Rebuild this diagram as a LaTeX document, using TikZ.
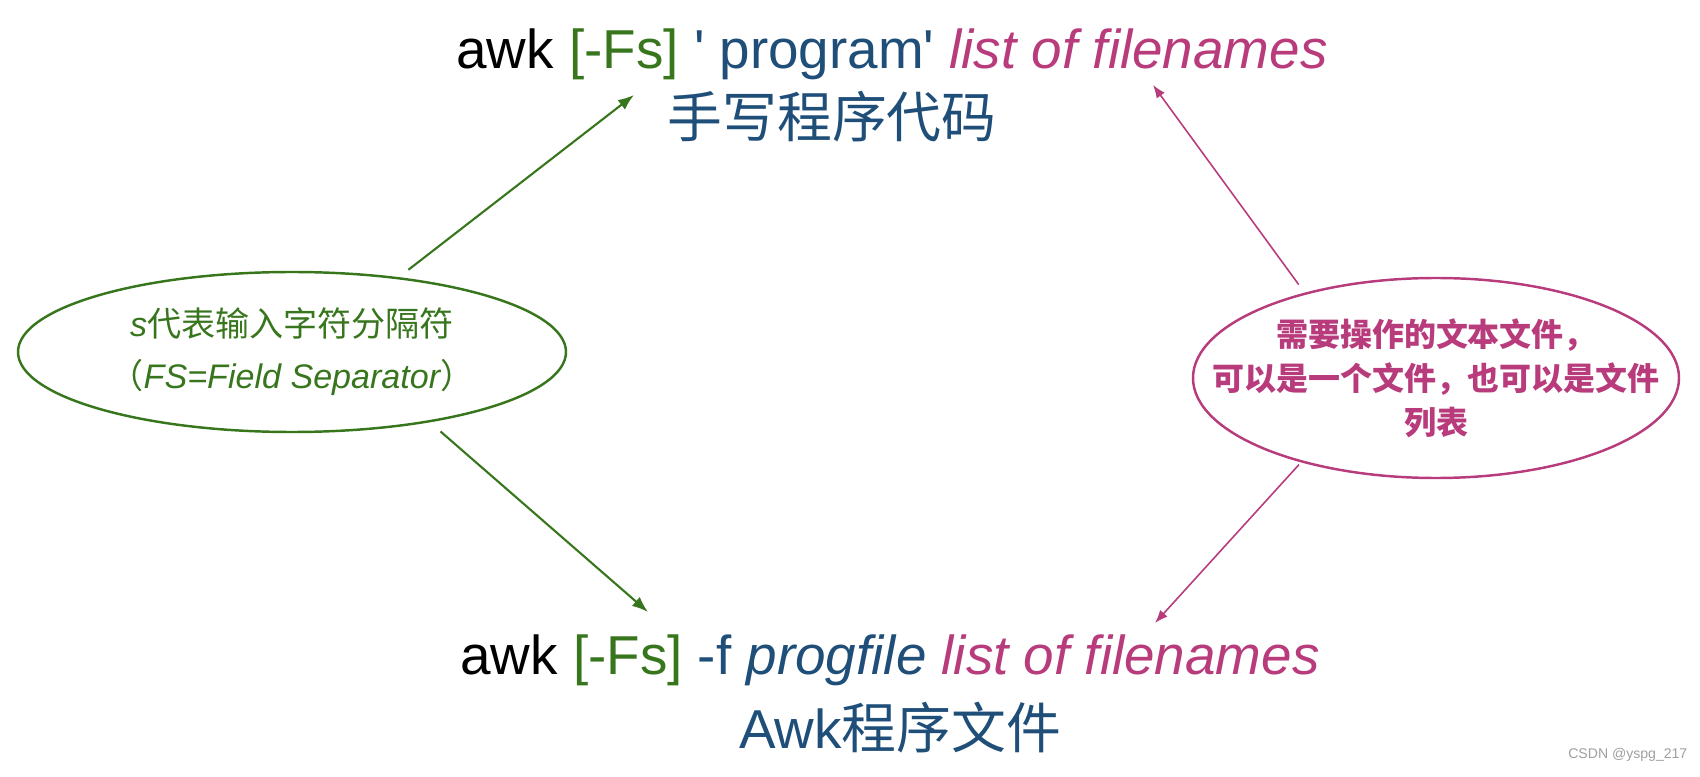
\documentclass[tikz,border=0pt]{standalone}
\usepackage{fontspec}
\setmainfont{Liberation Sans}
\newfontfamily\cjk{Noto Sans CJK SC}
\usepackage{tikz}
\usetikzlibrary{arrows.meta,shapes.geometric}

\definecolor{awkgreen}{HTML}{38761D}
\definecolor{awkblue}{HTML}{1F4E79}
\definecolor{awkpink}{HTML}{B83B7C}

\begin{document}
\begin{tikzpicture}[
  cmd/.style={anchor=base,inner sep=0pt,font=\fontsize{15.6}{18}\selectfont},
  note/.style={ellipse,draw,line width=0.7pt,inner ysep=0pt,inner xsep=-0.9cm,align=center},
  greenarrow/.style={awkgreen,line width=0.6pt,-{Latex[length=1.6mm,width=1.2mm]}},
  pinkarrow/.style={awkpink,line width=0.45pt,-{Latex[length=1.3mm,width=1mm]}}
]
\useasboundingbox (0,0) rectangle (17,7.76);

% Command lines
\node[cmd] (progline) at (8.92,7.07)
  {awk \textcolor{awkgreen}{[-Fs]} \textcolor{awkblue}{\textquotesingle{} program\textquotesingle} \textcolor{awkpink}{\itshape list of filenames}};
\node[cmd,text=awkblue] (progcjk) at (8.32,6.38) {\cjk 手写程序代码};
\node[cmd] (fileline) at (8.90,1.02)
  {awk \textcolor{awkgreen}{[-Fs]} \textcolor{awkblue}{-f \itshape progfile} \textcolor{awkpink}{\itshape list of filenames}};
\node[cmd,text=awkblue] (filecjk) at (9.00,0.28) {Awk{\cjk 程序文件}};

% Notes
\node[note,awkgreen,minimum width=5.48cm,minimum height=1.60cm,
      font=\fontsize{9.7}{14.8}\selectfont] (fsnote) at (2.92,4.24)
  {{\itshape s}{\cjk 代表输入字符分隔符}\\{\cjk （}{\itshape FS=Field Separator}{\cjk ）}};
\node[note,awkpink,minimum width=4.86cm,minimum height=2.0cm,
      font=\cjk\bfseries\fontsize{9.1}{12.5}\selectfont] (filesnote) at (14.36,3.98)
  {需要操作的文本文件，\\可以是一个文件，也可以是文件\\列表};

% Arrow tips
\coordinate (progtip) at (6.34,6.81);
\coordinate (filetip) at (6.48,1.64);
\coordinate (listtop) at (11.53,6.91);
\coordinate (listbot) at (11.55,1.53);

\draw[greenarrow,shorten <=0.12cm] (fsnote.35) -- (progtip);
\draw[greenarrow,shorten <=0.14cm] (fsnote.-27) -- (filetip);
\draw[pinkarrow,shorten <=0.1cm] (filesnote.147) -- (listtop);
\draw[pinkarrow,shorten <=0.03cm] (filesnote.-148) -- (listbot);

\node[anchor=base east,inner sep=0pt,text=gray!75,font=\fontsize{4}{5}\selectfont] (mark) at (16.88,0.18) {CSDN @yspg\_217};
\end{tikzpicture}
\end{document}
